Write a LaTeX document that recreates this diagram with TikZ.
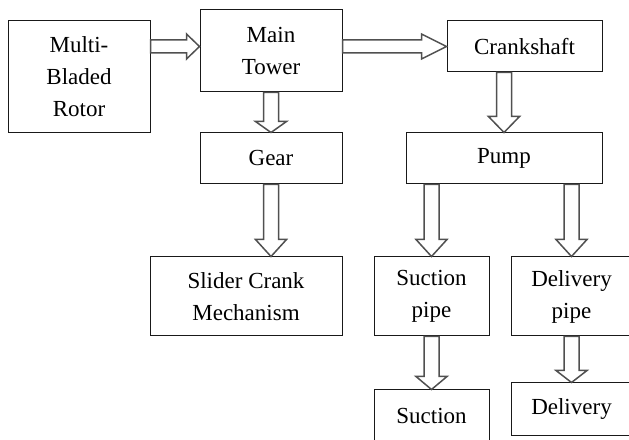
\documentclass[tikz,border=0pt]{standalone}
\usepackage{fontspec}
\setmainfont{Liberation Serif}
\usetikzlibrary{calc}
\definecolor{PumpLine}{RGB}{25,25,25}
\definecolor{PumpArrow}{RGB}{80,80,80}

\begin{document}
\begin{tikzpicture}[x=1pt,y=1pt]
    \tikzset{stage/.style={draw=PumpLine,line width=1pt,align=center,inner sep=0pt,font=\fontsize{23}{32}\selectfont},
      hollow/.style={draw=PumpArrow,line width=1.5pt,fill=white,line join=miter},
      hollowdown/.style={hollow,to path={let \p1=(\tikztostart),\p2=(\tikztotarget) in
        (\x1-7.5pt,\y1) -- (\x1-7.5pt,\y2+#1) -- (\x1-15.5pt,\y2+#1) -- (\x1,\y2) -- (\x1+15.5pt,\y2+#1) -- (\x1+7.5pt,\y2+#1) -- (\x1+7.5pt,\y1) -- cycle}},
      hollowdown/.default=15pt,
      hollowright/.style={hollow,to path={let \p1=(\tikztostart),\p2=(\tikztotarget) in
        (\x1,\y1+6.5pt) -- (\x2-#1,\y1+6.5pt) -- (\x2-#1,\y1+12.5pt) -- (\x2,\y1) -- (\x2-#1,\y1-12.5pt) -- (\x2-#1,\y1-6.5pt) -- (\x1,\y1-6.5pt) -- cycle}},
      hollowright/.default=15pt}
    \useasboundingbox (0,0) rectangle (629,439);
    \clip (0,0) rectangle (629,439);
    % boxes
    \node[stage,minimum width=142,minimum height=112] (rotor) at (79,362) {Multi-\\Bladed\\Rotor};
    \node[stage,minimum width=142,minimum height=82] (tower) at (271,388) {Main\\Tower};
    \node[stage,minimum width=155,minimum height=51] (crank) at (524.5,392.5) {Crankshaft};
    \node[stage,minimum width=142,minimum height=51] (gear) at (271,280.5) {Gear};
    \node[stage,minimum width=196,minimum height=51] (pump) at (504,280.5) {Pump};
    \node[stage,minimum width=192,minimum height=79] (slider) at (246,142.5) {Slider Crank\\Mechanism};
    \node[stage,minimum width=115,minimum height=79] (spipe) at (431.5,142.5) {Suction\\pipe};
    \node[stage,minimum width=121,minimum height=79] (dpipe) at (571.5,142.5) {Delivery\\pipe};
    \node[stage,minimum width=115,minimum height=52] (suction) at (431.5,23) {Suction};
    \node[stage,minimum width=121,minimum height=52] (delivery) at (571.5,30) {Delivery};
    % hollow arrows
    \draw[hollowright=13pt] (rotor.east |- crank.west) to (tower.west |- crank.west);
    \draw[hollowright=25pt] (tower.east |- crank.west) to (crank.west);
    \draw[hollowdown=11pt] (tower.south) to (gear.north);
    \draw[hollowdown=17pt] (gear.south) to (gear.south |- slider.north);
    \draw[hollowdown=16pt] (crank.south -| pump.north) to (pump.north);
    \draw[hollowdown=17pt] (pump.south -| spipe.north) to (spipe.north);
    \draw[hollowdown=17pt] (pump.south -| dpipe.north) to (dpipe.north);
    \draw[hollowdown=13pt] (spipe.south) to (suction.north);
    \draw[hollowdown=12pt] (dpipe.south) to (delivery.north);
  \end{tikzpicture}
\end{document}
